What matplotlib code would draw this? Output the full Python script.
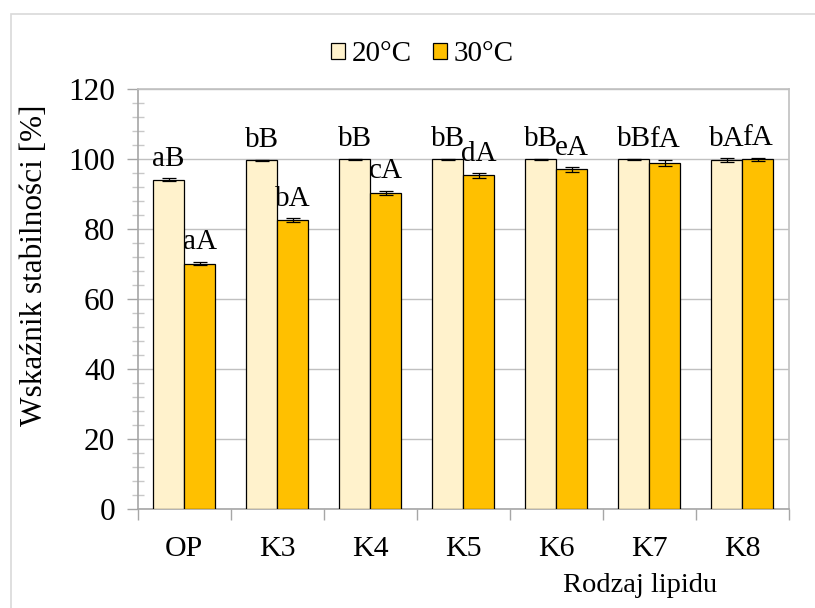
import matplotlib
matplotlib.use("Agg")
import matplotlib.pyplot as plt
import numpy as np
from matplotlib.patches import Rectangle, Patch
from matplotlib.ticker import MultipleLocator, FixedLocator

categories = ["OP", "K3", "K4", "K5", "K6", "K7", "K8"]
series_names = ["20°C", "30°C"]
vals_20 = [94.2, 99.7, 100.0, 100.0, 100.0, 100.0, 99.8]
vals_30 = [70.2, 82.6, 90.4, 95.4, 97.1, 99.0, 100.0]
err_20 = [0.4, 0.2, 0.1, 0.1, 0.1, 0.1, 0.5]
err_30 = [0.5, 0.6, 0.6, 0.6, 0.6, 0.9, 0.5]
labels_20 = ["aB", "bB", "bB", "bB", "bB", "bB", "bA"]
labels_30 = ["aA", "bA", "cA", "dA", "eA", "fA", "fA"]
yticks = [0, 20, 40, 60, 80, 100, 120]

plt.rcParams['font.family'] = ['Liberation Serif', 'DejaVu Serif']

W, H = 815, 608
fig = plt.figure(figsize=(W / 100, H / 100), dpi=100)
ax = fig.add_axes([137.5 / W, (H - 509.3) / H, (788.7 - 137.5) / W, (509.3 - 89.3) / H])

# outer chart border
fig.patches.append(Rectangle((11 / W, -0.05), 1.1, (H - 14) / H + 0.05, transform=fig.transFigure,
                             fill=False, edgecolor='#D9D9D9', linewidth=1.2, zorder=0))

x = np.arange(len(categories))
bw = 1 / 3
colors = ['#FFF2CC', '#FFC000']
grid_c = '#C0C0C0'
axis_c = '#A6A6A6'

for vals, errs, labs, off, col in [(vals_20, err_20, labels_20, -bw / 2, colors[0]),
                                    (vals_30, err_30, labels_30, bw / 2, colors[1])]:
    ax.bar(x + off, vals, width=bw, color=col, edgecolor='black', linewidth=0.9, zorder=3)
    ax.errorbar(x + off, vals, yerr=errs, fmt='none', ecolor='black', elinewidth=0.9,
                capsize=5, capthick=0.9, zorder=4)
    for xi, v, e, lab in zip(x + off, vals, errs, labs):
        ax.annotate(lab, (xi, v + e), xytext=(0, 9), textcoords='offset points',
                    ha='center', va='baseline', fontsize=21, zorder=5)

ax.set_xlim(-0.5, len(categories) - 0.5)
ax.set_ylim(0, 120)
ax.yaxis.set_major_locator(FixedLocator(yticks))
ax.yaxis.set_minor_locator(MultipleLocator(4))
ax.grid(axis='y', which='major', color=grid_c, linewidth=1.0, zorder=0)
ax.set_axisbelow(True)

ax.xaxis.set_major_locator(FixedLocator(np.arange(len(categories) + 1) - 0.5))
ax.xaxis.set_minor_locator(FixedLocator(x))
ax.set_xticklabels([], minor=False)
ax.set_xticklabels(categories, minor=True)
ax.tick_params(axis='x', which='major', length=8, width=1.0, color=axis_c, direction='out')
ax.tick_params(axis='x', which='minor', length=0, labelsize=21.5, pad=19)
ax.tick_params(axis='y', which='major', length=8, width=1.0, color=axis_c, direction='out', labelsize=22.5, pad=8)
ax.tick_params(axis='y', which='minor', length=9, width=1.0, color='#C8C8C8', direction='inout')

for s in ['left', 'bottom']:
    ax.spines[s].set_color(axis_c)
    ax.spines[s].set_linewidth(1.2)
for s in ['top', 'right']:
    ax.spines[s].set_color(grid_c)
    ax.spines[s].set_linewidth(1.2)

fig.text(35 / W, (H - 265) / H, "Wskaźnik stabilności [%]", fontsize=22.5, rotation=90,
         ha='center', va='center')
fig.text(640 / W, (H - 585) / H, "Rodzaj lipidu", fontsize=20.5, ha='center', va='center')

handles = [Patch(facecolor=c, edgecolor='black', linewidth=0.9) for c in colors]
fig.legend(handles, series_names, loc='center', bbox_to_anchor=(422 / W, (H - 54) / H), ncol=2,
           frameon=False, fontsize=21, handlelength=0.48, handleheight=0.48, handletextpad=0.23,
           columnspacing=0.72, borderpad=0, borderaxespad=0)

fig.savefig("out.png", dpi=100)
